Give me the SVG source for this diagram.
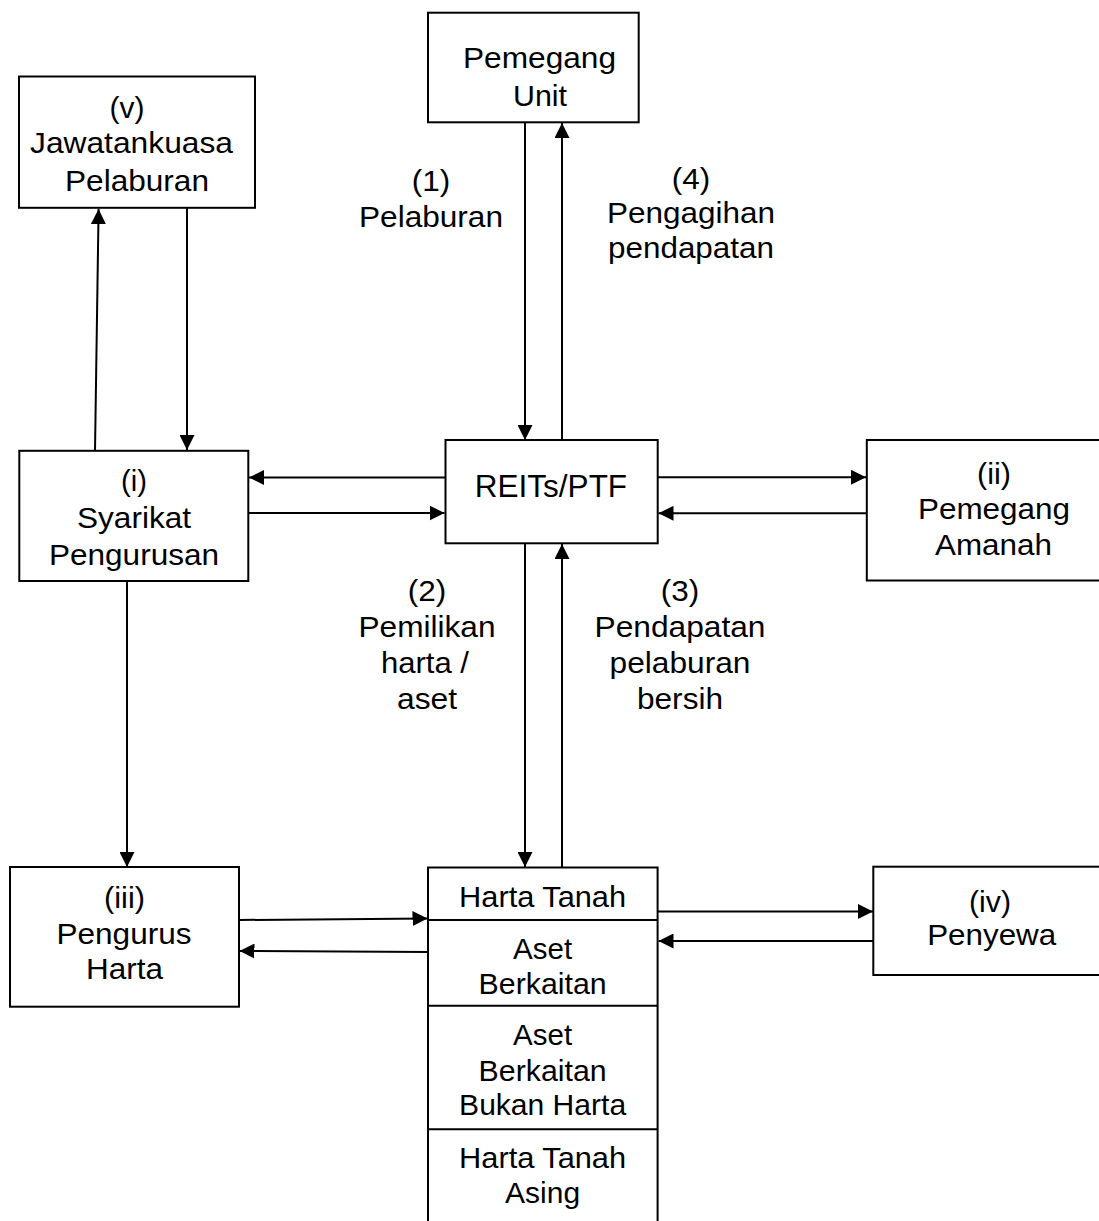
<svg xmlns="http://www.w3.org/2000/svg" width="1099" height="1221" viewBox="0 0 1099 1221">
<style>
  .box { fill: #fff; stroke: #000; stroke-width: 2; }
  .ln { fill: none; stroke: #000; stroke-width: 2; }
  .t { font-family: "Liberation Sans", Arial, sans-serif; font-size: 29px; text-anchor: middle; fill: #000; }
  .tb { font-size: 29.5px; }
  .big { font-size: 31.5px; }
</style>
<defs>
  <marker id="ah" markerUnits="userSpaceOnUse" markerWidth="16" markerHeight="15" refX="15" refY="7.5" orient="auto">
    <path d="M0,0 L15,7.5 L0,15 z" fill="#000"/>
  </marker>
</defs>
<rect width="1099" height="1221" fill="#fff"/>

<g id="connectors">
  <line class="ln" x1="525" y1="122" x2="525" y2="440" marker-end="url(#ah)"/>
  <line class="ln" x1="562" y1="440" x2="562" y2="123" marker-end="url(#ah)"/>
  <line class="ln" x1="95" y1="451" x2="98.6" y2="209" marker-end="url(#ah)"/>
  <line class="ln" x1="187" y1="208" x2="187" y2="450" marker-end="url(#ah)"/>
  <line class="ln" x1="445" y1="477.5" x2="249" y2="477.5" marker-end="url(#ah)"/>
  <line class="ln" x1="249" y1="513" x2="444.5" y2="513" marker-end="url(#ah)"/>
  <line class="ln" x1="658" y1="477.3" x2="866" y2="477.3" marker-end="url(#ah)"/>
  <line class="ln" x1="866" y1="513.3" x2="658.5" y2="513.3" marker-end="url(#ah)"/>
  <line class="ln" x1="127" y1="581" x2="127" y2="867" marker-end="url(#ah)"/>
  <line class="ln" x1="525" y1="543" x2="525" y2="867" marker-end="url(#ah)"/>
  <line class="ln" x1="562" y1="868" x2="562" y2="544" marker-end="url(#ah)"/>
  <line class="ln" x1="239" y1="920" x2="427.5" y2="918.5" marker-end="url(#ah)"/>
  <line class="ln" x1="428" y1="952" x2="239.5" y2="951" marker-end="url(#ah)"/>
  <line class="ln" x1="658" y1="911.5" x2="873" y2="911.5" marker-end="url(#ah)"/>
  <line class="ln" x1="873" y1="941" x2="658.5" y2="941" marker-end="url(#ah)"/>
</g>

<g id="labels">
  <text class="t" x="431" y="191" textLength="38.5" lengthAdjust="spacingAndGlyphs">(1)</text>
  <text class="t" x="431" y="227" textLength="144" lengthAdjust="spacingAndGlyphs">Pelaburan</text>
  <text class="t" x="691" y="189" textLength="38.5" lengthAdjust="spacingAndGlyphs">(4)</text>
  <text class="t" x="691" y="223" textLength="168" lengthAdjust="spacingAndGlyphs">Pengagihan</text>
  <text class="t" x="691" y="258" textLength="166" lengthAdjust="spacingAndGlyphs">pendapatan</text>
  <text class="t" x="427" y="601" textLength="38.5" lengthAdjust="spacingAndGlyphs">(2)</text>
  <text class="t" x="427" y="636.5" textLength="137" lengthAdjust="spacingAndGlyphs">Pemilikan</text>
  <text class="t" x="425" y="672.5" textLength="88" lengthAdjust="spacingAndGlyphs">harta /</text>
  <text class="t" x="427" y="708.5" textLength="60" lengthAdjust="spacingAndGlyphs">aset</text>
  <text class="t" x="680" y="601" textLength="38.5" lengthAdjust="spacingAndGlyphs">(3)</text>
  <text class="t" x="680" y="636.5" textLength="171" lengthAdjust="spacingAndGlyphs">Pendapatan</text>
  <text class="t" x="680" y="672.5" textLength="141" lengthAdjust="spacingAndGlyphs">pelaburan</text>
  <text class="t" x="680" y="708.5" textLength="86" lengthAdjust="spacingAndGlyphs">bersih</text>
</g>

<g id="pemegang-unit">
  <rect class="box" x="428" y="12.7" width="210.7" height="109.6"/>
  <text class="t" x="539.5" y="68" textLength="153" lengthAdjust="spacingAndGlyphs">Pemegang</text>
  <text class="t" x="540" y="106" textLength="54" lengthAdjust="spacingAndGlyphs">Unit</text>
</g>

<g id="jawatankuasa">
  <rect class="box" x="19" y="76.5" width="236" height="131.3"/>
  <text class="t" x="127" y="118" textLength="35" lengthAdjust="spacingAndGlyphs">(v)</text>
  <text class="t" x="131.5" y="153.3" textLength="203" lengthAdjust="spacingAndGlyphs">Jawatankuasa</text>
  <text class="t" x="137" y="190.5" textLength="144" lengthAdjust="spacingAndGlyphs">Pelaburan</text>
</g>

<g id="syarikat">
  <rect class="box" x="19.3" y="450.8" width="229" height="130.2"/>
  <text class="t" x="134" y="491" textLength="26" lengthAdjust="spacingAndGlyphs">(i)</text>
  <text class="t" x="134" y="528" textLength="114" lengthAdjust="spacingAndGlyphs">Syarikat</text>
  <text class="t" x="134" y="564.5" textLength="170" lengthAdjust="spacingAndGlyphs">Pengurusan</text>
</g>

<g id="reits">
  <rect class="box" x="445.5" y="440" width="212.2" height="103.3"/>
  <text class="t big" x="551" y="496.5">REITs/PTF</text>
</g>

<g id="pemegang-amanah">
  <rect class="box" x="866.8" y="440" width="240" height="140.5"/>
  <text class="t" x="994" y="484" textLength="34" lengthAdjust="spacingAndGlyphs">(ii)</text>
  <text class="t" x="994" y="519" textLength="152" lengthAdjust="spacingAndGlyphs">Pemegang</text>
  <text class="t" x="993.5" y="555" textLength="117" lengthAdjust="spacingAndGlyphs">Amanah</text>
</g>

<g id="pengurus-harta">
  <rect class="box" x="10" y="867" width="229" height="139.7"/>
  <text class="t tb" x="124.5" y="908" textLength="41" lengthAdjust="spacingAndGlyphs">(iii)</text>
  <text class="t tb" x="124" y="944" textLength="135" lengthAdjust="spacingAndGlyphs">Pengurus</text>
  <text class="t tb" x="124.5" y="979" textLength="77" lengthAdjust="spacingAndGlyphs">Harta</text>
</g>

<g id="harta">
  <path class="ln" d="M428,1221 L428,867.5 L657.6,867.5 L657.6,1221"/>
  <line class="ln" x1="428" y1="920" x2="657.6" y2="920"/>
  <line class="ln" x1="428" y1="1005.7" x2="657.6" y2="1005.7"/>
  <line class="ln" x1="428" y1="1129.3" x2="657.6" y2="1129.3"/>
  <text class="t tb" x="542.6" y="906.7" textLength="167" lengthAdjust="spacingAndGlyphs">Harta Tanah</text>
  <text class="t tb" x="542.6" y="959" textLength="59" lengthAdjust="spacingAndGlyphs">Aset</text>
  <text class="t tb" x="542.6" y="994" textLength="128" lengthAdjust="spacingAndGlyphs">Berkaitan</text>
  <text class="t tb" x="542.6" y="1045" textLength="59" lengthAdjust="spacingAndGlyphs">Aset</text>
  <text class="t tb" x="542.6" y="1080.7" textLength="128" lengthAdjust="spacingAndGlyphs">Berkaitan</text>
  <text class="t tb" x="542.6" y="1115" textLength="167" lengthAdjust="spacingAndGlyphs">Bukan Harta</text>
  <text class="t tb" x="542.6" y="1168" textLength="167" lengthAdjust="spacingAndGlyphs">Harta Tanah</text>
  <text class="t tb" x="542.6" y="1203" textLength="75" lengthAdjust="spacingAndGlyphs">Asing</text>
</g>

<g id="penyewa">
  <rect class="box" x="873.3" y="866.7" width="235" height="108.3"/>
  <text class="t" x="990" y="911.5" textLength="42" lengthAdjust="spacingAndGlyphs">(iv)</text>
  <text class="t" x="991.7" y="945" textLength="129" lengthAdjust="spacingAndGlyphs">Penyewa</text>
</g>
</svg>
